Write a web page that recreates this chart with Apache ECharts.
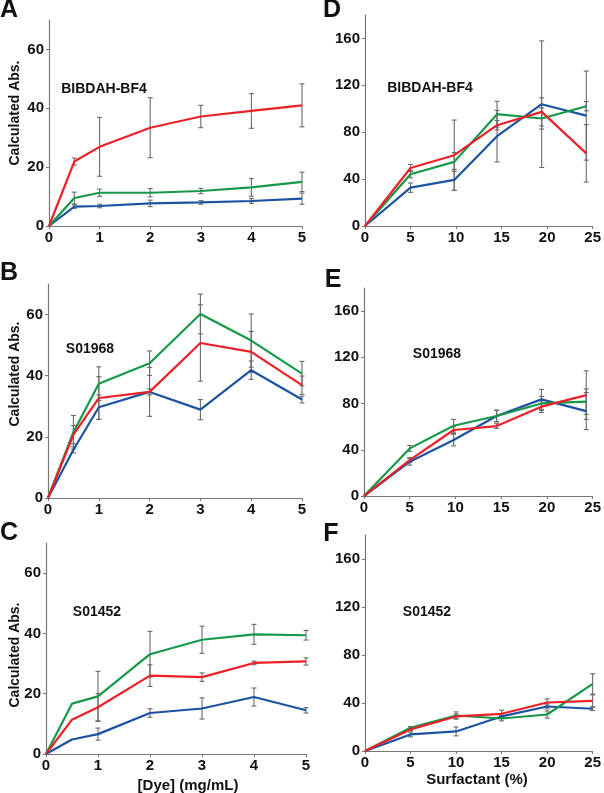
<!DOCTYPE html>
<html>
<head>
<meta charset="utf-8">
<script src="https://cdn.jsdelivr.net/npm/echarts@6/dist/echarts.min.js"></script>
<style>html,body{margin:0;padding:0;background:#fff}#c{width:604px;height:793px}</style>
</head>
<body>
<div id="c"></div>
<script>
// ---------- DATA ----------
const dyeX = [0, 0.5, 1, 2, 3, 4, 5];
const surfX_DE = [0, 5, 9.8, 14.5, 19.4, 24.3];
const surfX_F = [0, 5, 10, 15, 20, 25];

// Panel A: BIBDAH-BF4 vs dye
const A_red = [0, 21.9, 26.9, 33.4, 37.2, 39.1, 41.0];
const A_redErr = [0, 1.2, 10, 10.2, 3.8, 5.9, 7.3];
const A_green = [0, 9.5, 11.3, 11.3, 11.9, 13.1, 15.0];
const A_greenErr = [0, 2, 1.2, 1.4, 0.9, 3, 3.3];
const A_blue = [0, 6.6, 6.8, 7.7, 8.0, 8.5, 9.3];
const A_blueErr = [0, 0.6, 0.6, 1.1, 0.6, 0.8, 1.9];

// Panel B: S01968 vs dye
const B_red = [0, 20.7, 32.7, 34.7, 50.7, 47.8, 36.9];
const B_redErr = [0, 3, 7, 8, 12.5, 6.7, 3];
const B_green = [0, 21.5, 37.4, 44.1, 60.2, 51.5, 40.7];
const B_greenErr = [0, 5.5, 5.5, 4, 6.5, 8.7, 4];
const B_blue = [0, 15.8, 29.7, 34.7, 28.9, 41.8, 32.2];
const B_blueErr = [0, 1, 4, 1, 3.3, 3, 1.1];

// Panel C: S01452 vs dye
const C_red = [0, 11.4, 15.5, 26.0, 25.5, 30.2, 30.7];
const C_redErr = [0, 0, 4.5, 3.6, 1.4, 0.6, 1.2];
const C_green = [0, 16.7, 19.1, 33.1, 37.9, 39.7, 39.4];
const C_greenErr = [0, 0, 8.3, 7.6, 4.5, 3.3, 1.6];
const C_blue = [0, 4.8, 6.6, 13.6, 15.1, 18.9, 14.5];
const C_blueErr = [0, 0, 2, 1.4, 3.5, 3, 0.9];

// Panel D: BIBDAH-BF4 vs surfactant
const D_red = [0, 49.5, 60.4, 86.0, 97.4, 62.0];
const D_redErr = [0, 3, 30, 4, 12, 24.5];
const D_green = [0, 44.1, 54.7, 95.4, 91.7, 102.2];
const D_greenErr = [0, 3, 8, 11, 9, 4];
const D_blue = [0, 32.7, 39.3, 76.6, 103.9, 94.2];
const D_blueErr = [0, 4, 9, 22, 54, 38];

// Panel E: S01968 vs surfactant
const E_red = [0, 31.1, 57.1, 60.5, 77.3, 87.3];
const E_redErr = [0, 2, 3, 2, 5, 21];
const E_green = [0, 41.2, 60.8, 69.2, 80.1, 81.6];
const E_greenErr = [0, 2.5, 5.5, 5, 6, 11];
const E_blue = [0, 29.7, 48.4, 69.2, 83.6, 73.5];
const E_blueErr = [0, 3, 5, 5, 8.6, 16];

// Panel F: S01452 vs surfactant
const F_red = [0, 18.0, 28.8, 31.0, 40.4, 41.8];
const F_redErr = [0, 1, 2, 3, 3, 5];
const F_green = [0, 19.4, 29.6, 27.1, 30.4, 55.9];
const F_greenErr = [0, 1, 3, 2, 3, 8.5];
const F_blue = [0, 13.8, 16.3, 28.8, 37.1, 35.2];
const F_blueErr = [0, 2, 3.7, 1, 2, 1.5];

const dyeTicks = [0, 1, 2, 3, 4, 5];
const surfTicks = [0, 5, 10, 15, 20, 25];
const leftYTicks = [0, 20, 40, 60];
const rightYTicks = [0, 40, 80, 120, 160];

// ---------- STYLE / LAYOUT ----------
const RED = '#ec2027', GREEN = '#16984a', BLUE = '#1c53a0', ERR = '#6a6a6a';
const FONT = '"Liberation Sans", Arial, sans-serif';

const panels = [
  { g: {left: 49, top: 20, width: 253, height: 206}, x: dyeX, xmax: 5, xint: 1, xt: dyeTicks, ymax: 70, yt: leftYTicks,
    r: A_red, re: A_redErr, gr: A_green, ge: A_greenErr, b: A_blue, be: A_blueErr },
  { g: {left: 48, top: 284, width: 254, height: 214}, x: dyeX, xmax: 5, xint: 1, xt: dyeTicks, ymax: 70, yt: leftYTicks,
    r: B_red, re: B_redErr, gr: B_green, ge: B_greenErr, b: B_blue, be: B_blueErr },
  { g: {left: 46, top: 543, width: 260, height: 211}, x: dyeX, xmax: 5, xint: 1, xt: dyeTicks, ymax: 70, yt: leftYTicks,
    r: C_red, re: C_redErr, gr: C_green, ge: C_greenErr, b: C_blue, be: C_blueErr },
  { g: {left: 365, top: 15, width: 230, height: 211}, x: surfX_DE, xmax: 25, xint: 5, xt: surfTicks, ymax: 180, yt: rightYTicks,
    r: D_red, re: D_redErr, gr: D_green, ge: D_greenErr, b: D_blue, be: D_blueErr },
  { g: {left: 364, top: 288, width: 229, height: 208}, x: surfX_DE, xmax: 25, xint: 5, xt: surfTicks, ymax: 180, yt: rightYTicks,
    r: E_red, re: E_redErr, gr: E_green, ge: E_greenErr, b: E_blue, be: E_blueErr },
  { g: {left: 365, top: 535, width: 230, height: 216}, x: surfX_F, xmax: 25, xint: 5, xt: surfTicks, ymax: 180, yt: rightYTicks,
    r: F_red, re: F_redErr, gr: F_green, ge: F_greenErr, b: F_blue, be: F_blueErr }
];

const grid = [], xAxis = [], yAxis = [], series = [];

function errRender(params, api) {
  const x = api.value(0), y = api.value(1), e = api.value(2);
  if (!e) return null;
  const t = api.coord([x, y + e]), b = api.coord([x, y - e]);
  const c = 2.5;
  const st = {stroke: ERR, lineWidth: 1.1};
  return {type: 'group', children: [
    {type: 'line', shape: {x1: t[0], y1: t[1], x2: b[0], y2: b[1]}, style: st},
    {type: 'line', shape: {x1: t[0] - c, y1: t[1], x2: t[0] + c, y2: t[1]}, style: st},
    {type: 'line', shape: {x1: b[0] - c, y1: b[1], x2: b[0] + c, y2: b[1]}, style: st}
  ]};
}

panels.forEach((p, i) => {
  grid.push(Object.assign({containLabel: false}, p.g));
  xAxis.push({
    type: 'value', gridIndex: i, min: 0, max: p.xmax, interval: p.xint,
    axisLine: {show: true, onZero: false, lineStyle: {color: '#777', width: 1.2}},
    axisTick: {show: true, length: 3, lineStyle: {color: '#777'}, customValues: p.xt},
    axisLabel: {color: '#111', fontSize: 15, fontWeight: 'bold', fontFamily: FONT, margin: 4, customValues: p.xt},
    splitLine: {show: false}
  });
  yAxis.push({
    type: 'value', gridIndex: i, min: 0, max: p.ymax,
    axisLine: {show: true, onZero: false, lineStyle: {color: '#777', width: 1.2}},
    axisTick: {show: true, length: 3, lineStyle: {color: '#777'}, customValues: p.yt},
    axisLabel: {color: '#111', fontSize: 15, fontWeight: 'bold', fontFamily: FONT, margin: 5, customValues: p.yt},
    splitLine: {show: false}
  });
  const sets = [[p.b, p.be, BLUE], [p.gr, p.ge, GREEN], [p.r, p.re, RED]];
  sets.forEach(([vals, errs, col]) => {
    series.push({
      type: 'line', xAxisIndex: i, yAxisIndex: i, showSymbol: false, symbol: 'none',
      lineStyle: {color: col, width: 2.2}, itemStyle: {color: col}, z: 3, animation: false,
      data: p.x.map((xv, k) => [xv, vals[k]])
    });
    series.push({
      type: 'custom', xAxisIndex: i, yAxisIndex: i, renderItem: errRender, z: 2, animation: false,
      data: p.x.map((xv, k) => [xv, vals[k], errs[k]])
    });
  });
});

function txt(x, y, s, size, opts) {
  return Object.assign({
    type: 'text', x: x, y: y,
    style: {text: s, font: 'bold ' + size + 'px ' + FONT, fill: '#111', textAlign: 'center', textVerticalAlign: 'middle'}
  }, opts || {});
}

const graphic = [
  txt(9, 10, 'A', 25), txt(9, 273, 'B', 25), txt(9, 533, 'C', 25),
  txt(332, 10, 'D', 25), txt(333, 280, 'E', 25), txt(331, 534, 'F', 25),
  txt(104, 89, 'BIBDAH-BF4', 14), txt(430, 88, 'BIBDAH-BF4', 14),
  txt(90, 349, 'S01968', 14), txt(437, 354, 'S01968', 14),
  txt(97, 612, 'S01452', 14), txt(427, 612, 'S01452', 14),
  txt(15, 113, 'Calculated Abs.', 14, {rotation: Math.PI / 2}),
  txt(15, 374, 'Calculated Abs.', 14, {rotation: Math.PI / 2}),
  txt(15, 655, 'Calculated Abs.', 14, {rotation: Math.PI / 2}),
  txt(188, 786, '[Dye] (mg/mL)', 15),
  txt(477, 780, 'Surfactant (%)', 15)
];

const chart = echarts.init(document.getElementById('c'), null, {renderer: 'canvas'});
chart.setOption({animation: false, backgroundColor: '#fff', grid, xAxis, yAxis, series, graphic});
</script>
</body>
</html>
